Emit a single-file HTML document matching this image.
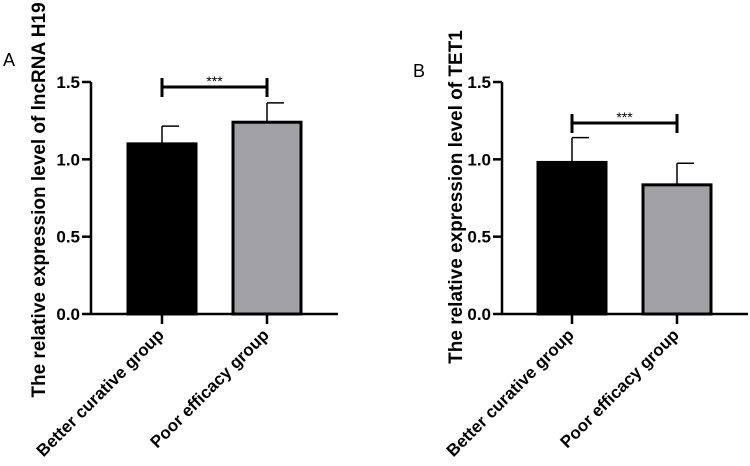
<!DOCTYPE html>
<html><head><meta charset="utf-8"><style>body{margin:0;background:#fff}svg{display:block;font-family:"Liberation Sans",Arial,sans-serif}</style></head>
<body>
<svg id="c" width="750" height="466"></svg>
<script>
const categories = ["Better curative group","Poor efficacy group"];
const valuesA = [1.10, 1.24];
const errorsA = [0.115, 0.125];
const valuesB = [0.98, 0.835];
const errorsB = [0.16, 0.14];
const yTicks = [0.0, 0.5, 1.0, 1.5];
const tickLabels = ["0.0","0.5","1.0","1.5"];
const colors = ["#000","#a2a2a6"];
const svg = document.getElementById('c');
const NS = "http://www.w3.org/2000/svg";
function mk(t, a, txt){const e=document.createElementNS(NS,t);for(const k in a)e.setAttribute(k,a[k]);if(txt!=null)e.textContent=txt;svg.appendChild(e);return e;}
function panel(p){
  const y = v => p.y0 - v*(p.y0-p.y15)/1.5;
  const line=(x1,y1,x2,y2,w,n)=>{const e=mk('line',{x1,y1,x2,y2,stroke:'#000','stroke-width':w});return e;};
  line(p.ax,p.y15,p.ax,p.y0+1,2.5,'y-axis');
  line(p.ax,p.y0,p.xend,p.y0,2.5,'x-axis');
  yTicks.forEach((t,i)=>{
    line(p.ax-9,y(t),p.ax,y(t),2.5,'y-tick');
    const e=mk('text',{x:p.ax-11,y:y(t)+6,'text-anchor':'end','font-size':17,'font-weight':'bold'},tickLabels[i]);
    
  });
  p.vals.forEach((v,i)=>{
    const cx=p.cx[i], w=p.bw;
    const er=line(cx,y(v),cx,y(v+p.errs[i]),1.5,'error-bar');
    line(cx,y(v+p.errs[i]),cx+w/4,y(v+p.errs[i]),1.5,'error-cap');
    const r=mk('rect',{x:cx-w/2,y:y(v),width:w,height:y(0)-y(v),fill:colors[i],stroke:'#000','stroke-width':3});
    
    line(cx,p.y0,cx,p.y0+10,2.5,'x-tick');
    const t=mk('text',{x:cx+3,y:p.y0+22,'text-anchor':'end','font-size':17,'font-weight':'bold',transform:`rotate(-45 ${cx+3} ${p.y0+22})`},categories[i]);
    
  });
  line(p.cx[0],p.sigY,p.cx[1],p.sigY,3,'significance-bar');
  line(p.cx[0],p.sigY-9,p.cx[0],p.sigY+10,3,'significance-end');
  line(p.cx[1],p.sigY-9,p.cx[1],p.sigY+10,3,'significance-end');
  const s=mk('text',{x:(p.cx[0]+p.cx[1])/2,y:p.sigY-1,'text-anchor':'middle','font-size':14},'***');
  
  const yt=mk('text',{x:0,y:0,'text-anchor':'middle','font-size':19,'font-weight':'bold',transform:`translate(${p.tx} ${p.ty}) rotate(-90)`},p.title);
  
  const pl=mk('text',{x:p.lx,y:p.ly,'font-size':18},p.label);
  
}
panel({ax:91,xend:338,y0:314,y15:82,cx:[162,267],bw:68,vals:valuesA,errs:errorsA,sigY:87,tx:45,ty:200,title:"The relative expression level of lncRNA H19",label:"A",lx:3,ly:66});
panel({ax:502,xend:748,y0:314,y15:82,cx:[572,677],bw:68,vals:valuesB,errs:errorsB,sigY:123,tx:462,ty:197,title:"The relative expression level of TET1",label:"B",lx:413,ly:77});
</script>
</body></html>
